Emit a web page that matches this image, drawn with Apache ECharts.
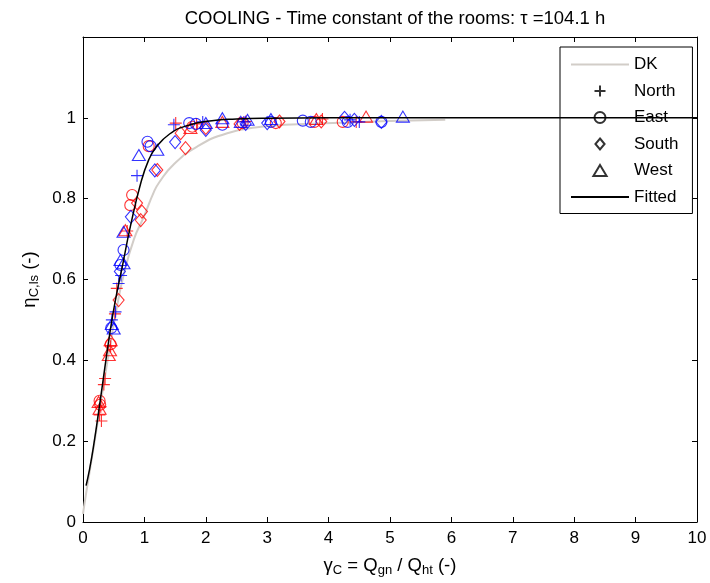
<!DOCTYPE html>
<html><head><meta charset="utf-8">
<script src="https://cdn.jsdelivr.net/npm/echarts@6/dist/echarts.min.js"></script>
<style>html,body{margin:0;padding:0;background:#fff}#c{width:710px;height:583px}</style>
</head><body><div id="c"></div>
<script>
const titleText = 'COOLING - Time constant of the rooms: \u03c4 =104.1 h';
const xTicks = [0,1,2,3,4,5,6,7,8,9,10];
const yTickLabels = ['0','0.2','0.4','0.6','0.8','1'];
const legendNames = ['DK','North','East','South','West','Fitted'];

const dkX = [0, 0.05, 0.2, 0.4, 0.55, 0.66, 0.83, 0.99, 1.15, 1.24, 1.48, 1.86, 2.35, 2.9, 3.5, 4.2, 5.0, 5.9];
const dkY = [0.02, 0.07, 0.21, 0.40, 0.53, 0.61, 0.70, 0.755, 0.815, 0.84, 0.885, 0.929, 0.962, 0.978, 0.984, 0.988, 0.992, 0.995];

const fitX = [0.05, 0.1, 0.17, 0.28, 0.45, 0.55, 0.64, 0.77, 0.94, 1.07, 1.19, 1.41, 1.68, 2.1, 2.5, 3, 4, 5, 6, 7, 8, 9, 10];
const fitY = [0.09, 0.125, 0.186, 0.30, 0.48, 0.566, 0.632, 0.73, 0.838, 0.896, 0.927, 0.96, 0.98, 0.993, 0.997, 0.999, 1, 1, 1, 1, 1, 1, 1];

const redNorth = [[0.27,0.265],[0.29,0.285],[0.30,0.25],[0.34,0.34],[0.36,0.355],[0.45,0.435],[0.52,0.515],[0.55,0.578],[0.72,0.72],[1.51,0.987],[1.85,0.985],[2.65,0.991],[3.9,0.997],[4.45,0.99]];
const blueNorth = [[0.47,0.5],[0.53,0.52],[0.58,0.59],[0.62,0.61],[0.88,0.857],[1.48,0.983],[1.95,0.99],[2.62,0.99],[4.35,0.995],[4.5,0.99]];
const redEast = [[0.27,0.30],[0.28,0.29],[0.45,0.44],[0.77,0.784],[0.80,0.809],[1.07,0.93],[1.78,0.978],[2.6,0.987],[3.14,0.987],[3.77,0.99],[4.23,0.99]];
const blueEast = [[0.46,0.48],[0.61,0.636],[0.66,0.673],[1.05,0.941],[1.10,0.93],[1.73,0.987],[1.84,0.985],[2.27,0.983],[3.06,0.99],[3.58,0.993],[3.71,0.99],[4.31,0.99],[4.86,0.99]];
const redSouth = [[0.58,0.549],[0.88,0.789],[0.94,0.747],[0.96,0.768],[1.21,0.871],[1.59,0.962],[1.67,0.925],[2.0,0.975],[2.55,0.985],[3.2,0.991],[3.88,0.991]];
const blueSouth = [[0.6,0.62],[0.78,0.755],[1.17,0.87],[1.5,0.94],[2.0,0.97],[2.65,0.985],[3.0,0.987],[4.26,1.0],[4.42,0.995],[4.86,0.99]];
const redWest = [[0.255,0.297],[0.27,0.28],[0.42,0.413],[0.44,0.425],[0.45,0.45],[0.69,0.722],[1.75,0.975],[2.27,0.99],[3.8,0.997],[4.61,1.003]];
const blueWest = [[0.47,0.49],[0.5,0.479],[0.61,0.648],[0.66,0.64],[0.66,0.718],[0.91,0.908],[1.21,0.921],[2.0,0.987],[2.27,0.999],[2.57,0.99],[2.68,0.995],[3.06,0.997],[5.21,1.003]];

const RED = '#ff0000', BLUE = '#0000ff';
const PLUS = 'path://M5,0L5,10M0,5L10,5';
const DIAM = 'path://M5,0L10,6L5,12L0,6Z';
const TRI = 'path://M6,0L12,10L0,10Z';
const FONT = 'Liberation Sans, Arial, sans-serif';
const FS = 17, FS_T = 18.5, FS_SUB = 13;
const SZ = {plus: 12, circle: 11, diam: [11,13], tri: [13,11]};

function zip(xs, ys){ return xs.map((x,i)=>[x, ys[i]]); }

function scat(name, data, color, sym, size){
  return {type:'scatter', name, data, symbol: sym, symbolSize: size,
    itemStyle:{color:'rgba(0,0,0,0)', borderColor: color, borderWidth: 1.1},
    emphasis:{disabled:true}, silent:true, z: 3};
}

const series = [
  {type:'line', name:'DK', data: zip(dkX, dkY), showSymbol:false, symbol:'none', smooth:true,
   lineStyle:{color:'#d2cdc8', width:2}, itemStyle:{color:'#d2cdc8'}, z:1, silent:true},
  scat('North', [], '#000', PLUS, SZ.plus),
  scat('East', [], '#000', 'circle', SZ.circle),
  scat('South', [], '#000', DIAM, SZ.diam),
  scat('West', [], '#000', TRI, SZ.tri),
  {type:'line', name:'Fitted', data: zip(fitX, fitY), showSymbol:false, symbol:'none', smooth:true,
   lineStyle:{color:'#000', width:1.5}, itemStyle:{color:'#000'}, z:4, silent:true},
  scat('rN', redNorth, RED, PLUS, SZ.plus),
  scat('rE', redEast, RED, 'circle', SZ.circle),
  scat('rS', redSouth, RED, DIAM, SZ.diam),
  scat('rW', redWest, RED, TRI, SZ.tri),
  scat('bN', blueNorth, BLUE, PLUS, SZ.plus),
  scat('bE', blueEast, BLUE, 'circle', SZ.circle),
  scat('bS', blueSouth, BLUE, DIAM, SZ.diam),
  scat('bW', blueWest, BLUE, TRI, SZ.tri)
];

const legendData = legendNames.map(n => (n==='DK' || n==='Fitted')
  ? {name:n, itemStyle:{opacity:0}} : {name:n});

const axisLine = {show:true, onZero:false, lineStyle:{color:'#000', width:1}};
const tick = {show:true, inside:true, length:5, lineStyle:{color:'#000'}};
const rich = {n:{fontSize:FS_T, fontFamily:FONT, color:'#000'},
              s:{fontSize:FS_SUB, fontFamily:FONT, color:'#000', padding:[9,0,0,0]}};

const option = {
  animation:false,
  backgroundColor:'#fff',
  title:{text: titleText, left: 390, top: 4, textAlign:'center',
    textStyle:{fontFamily:FONT, fontSize:FS_T, fontWeight:'normal', color:'#000'}},
  grid:{left:83, right:13, top:37, bottom:61, containLabel:false},
  legend:{data: legendData, orient:'vertical', left:560, top:47,
    padding:[9,14,8,10], itemWidth:58, itemHeight:11, itemGap:9.5, symbolKeepAspect:true,
    backgroundColor:'#fff', borderColor:'#000', borderWidth:1, borderRadius:0,
    textStyle:{fontFamily:FONT, fontSize:FS, color:'#000'}, selectedMode:false},
  xAxis:[
    {type:'value', min:xTicks[0], max:xTicks[xTicks.length-1], interval:1, position:'bottom',
     axisLine, axisTick:tick, splitLine:{show:false},
     axisLabel:{fontFamily:FONT, fontSize:FS, color:'#000', margin:8},
     name:'{n|\u03b3}{s|C}{n| = Q}{s|gn}{n| / Q}{s|ht}{n| (-)}', nameLocation:'middle', nameGap:33,
     nameTextStyle:{fontFamily:FONT, fontSize:FS_T, color:'#000', rich}},
    {type:'value', min:0, max:10, interval:1, position:'top',
     axisLine, axisTick:tick, axisLabel:{show:false}, splitLine:{show:false}}
  ],
  yAxis:[
    {type:'value', min:0, max:1.2, interval:0.2, position:'left',
     axisLine, axisTick:tick, splitLine:{show:false},
     axisLabel:{fontFamily:FONT, fontSize:FS, color:'#000', margin:7,
       formatter:(v)=>{const i=Math.round(v/0.2); return i<yTickLabels.length? yTickLabels[i] : '';}},
     name:'{n|\u03b7}{s|C,ls}{n| (-)}', nameLocation:'middle', nameGap:42, nameRotate:90,
     nameTextStyle:{fontFamily:FONT, fontSize:FS_T, color:'#000', rich}},
    {type:'value', min:0, max:1.2, interval:0.2, position:'right',
     axisLine, axisTick:tick, axisLabel:{show:false}, splitLine:{show:false}}
  ],
  series
};
echarts.init(document.getElementById('c'), null, {renderer:'canvas'}).setOption(option);
</script></body></html>
